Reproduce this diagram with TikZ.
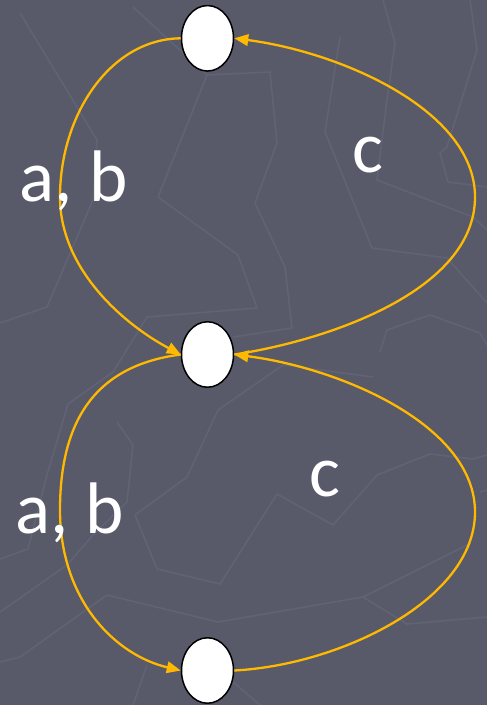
\documentclass[tikz,border=0pt]{standalone}
\usepackage{fontspec}
\setmainfont{Carlito}
\usetikzlibrary{arrows.meta,shapes.geometric}
\definecolor{bg}{RGB}{88,90,106}
\definecolor{bgline}{RGB}{96,99,116}
\definecolor{edgecol}{RGB}{255,185,0}
\begin{document}
\begin{tikzpicture}[x=1pt,y=-1pt,
  state/.style={ellipse,draw=black,fill=white,line width=1.5pt,minimum width=52pt,minimum height=65.5pt,inner sep=0pt},
  trans/.style={draw=edgecol,line width=2.3pt,-{Triangle[length=14pt,width=11.5pt]}},
  lbl/.style={text=white,font=\fontsize{73}{73}\selectfont,inner sep=0pt,anchor=base},
  bgl/.style={draw=bgline,line width=1.6pt,line join=round}]
\fill[bg] (0,0) rectangle (487,705);
\useasboundingbox (0,0) rectangle (487,705);
% faint background pattern
\draw[bgl] (20,13) -- (97,140) -- (93,200) -- (47,307) -- (0,323);
\draw[bgl] (133,7) -- (207,75) -- (158,197) -- (238,255) -- (257,308) -- (147,317) -- (113,372) -- (68,404) -- (47,475) -- (28,549) -- (0,559);
\draw[bgl] (207,75) -- (270,72) -- (277,143) -- (255,203) -- (285,267) -- (292,328) -- (233,337);
\draw[bgl] (340,37) -- (325,132) -- (372,248) -- (447,258) -- (487,303);
\draw[bgl] (383,0) -- (395,43) -- (387,100) -- (377,180) -- (473,217) -- (487,230);
\draw[bgl] (470,0) -- (477,50) -- (447,147) -- (440,153) -- (448,182) -- (487,187);
\draw[bgl] (380,352) -- (387,330) -- (430,315) -- (480,333) -- (487,345);
\draw[bgl] (373,377) -- (283,365) -- (218,410) -- (187,477) -- (135,515);
\draw[bgl] (117,422) -- (133,445) -- (127,502) -- (93,535) -- (67,565) -- (0,612);
\draw[bgl] (135,515) -- (157,569) -- (220,584) -- (277,494) -- (333,525) -- (377,475) -- (430,454) -- (473,459) -- (487,455);
\draw[bgl] (0,662) -- (20,657) -- (107,595) -- (218,622) -- (363,597) -- (467,545);
\draw[bgl] (363,597) -- (407,624) -- (487,617);
\draw[bgl] (480,492) -- (487,490);
\draw[bgl] (133,705) -- (147,665);
\draw[bgl] (233,682) -- (260,705);
% states
\node[state] (q0) at (207.5,38.3) {};
\node[state] (q1) at (207.5,354.5) {};
\node[state] (q2) at (207.5,670.5) {};
% transitions
\draw[trans] (q0.west) .. controls (110,39) and (60,115) .. (60,197)
  .. controls (60,270) and (125,325) .. (q1.west);
\draw[trans] (q1.east) .. controls (330,340) and (475,290) .. (475,197)
  .. controls (475,110) and (340,52) .. (q0.east);
\draw[trans] (q1.west) .. controls (100,365) and (60,415) .. (60,510)
  .. controls (60,600) and (115,655) .. (q2.west);
\draw[trans] (q2.east) .. controls (340,665) and (475,600) .. (475,512)
  .. controls (475,425) and (340,368) .. (q1.east);
% labels
\node[lbl] (l1) at (73.5,201) {a, b};
\node[lbl] (l2) at (368,172) {c};
\node[lbl] (l3) at (69.5,533) {a, b};
\node[lbl] (l4) at (324.5,496) {c};
\end{tikzpicture}
\end{document}
